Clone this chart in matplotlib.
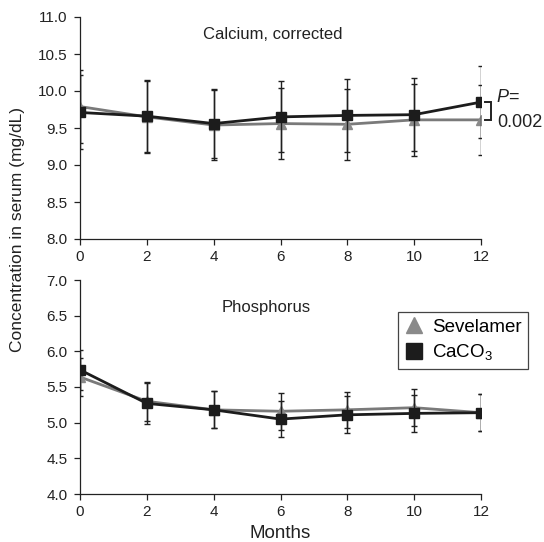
import matplotlib
matplotlib.use("Agg")
import matplotlib.pyplot as plt
from matplotlib.lines import Line2D

plt.rcParams['font.family'] = ['Liberation Sans', 'DejaVu Sans']
plt.rcParams['mathtext.fontset'] = 'custom'
plt.rcParams['mathtext.rm'] = 'Liberation Sans'
plt.rcParams['mathtext.it'] = 'Liberation Sans:italic'

months = [0, 2, 4, 6, 8, 10, 12]
ca_sev = [9.79, 9.65, 9.54, 9.56, 9.55, 9.61, 9.61]
ca_sev_sd = [0.49, 0.49, 0.47, 0.48, 0.48, 0.49, 0.47]
ca_caco3 = [9.71, 9.66, 9.56, 9.65, 9.67, 9.68, 9.85]
ca_caco3_sd = [0.50, 0.49, 0.47, 0.48, 0.49, 0.49, 0.49]
p_sev = [5.64, 5.30, 5.18, 5.16, 5.18, 5.21, 5.14]
p_sev_sd = [0.27, 0.27, 0.26, 0.26, 0.25, 0.26, 0.26]
p_caco3 = [5.74, 5.27, 5.18, 5.05, 5.11, 5.13, 5.14]
p_caco3_sd = [0.28, 0.29, 0.26, 0.25, 0.26, 0.26, 0.26]
ca_yticks = [8.0, 8.5, 9.0, 9.5, 10.0, 10.5, 11.0]
p_yticks = [4.0, 4.5, 5.0, 5.5, 6.0, 6.5, 7.0]
p_value_label = "0.002"

W, H = 544, 542
fig = plt.figure(figsize=(W / 100, H / 100), dpi=100)

def fx(px):
    return px / W

def fy(py):
    return 1 - py / H

ax1 = fig.add_axes([fx(80), fy(239), fx(481) - fx(80), fy(17) - fy(239)])
ax2 = fig.add_axes([fx(80), fy(494), fx(481) - fx(80), fy(280) - fy(494)])

SEV_LINE = '#7a7a7a'
SEV_MARK = '#8a8a8a'
CA_COL = '#1c1c1c'
ERR = '#202020'

def draw(ax, sev, sev_sd, cac, cac_sd, yticks):
    ax.errorbar(months, sev, yerr=sev_sd, color=SEV_LINE, lw=2.0,
                marker='^', ms=7, mfc=SEV_MARK, mec=SEV_MARK,
                ecolor=ERR, elinewidth=1.0, capsize=2.5, capthick=1.0, zorder=3)
    ax.errorbar(months, cac, yerr=cac_sd, color=CA_COL, lw=2.0,
                marker='s', ms=7, mfc=CA_COL, mec=CA_COL,
                ecolor=ERR, elinewidth=1.0, capsize=2.5, capthick=1.0, zorder=4)
    ax.set_xlim(0, 12)
    ax.set_ylim(yticks[0], yticks[-1])
    ax.set_xticks(months)
    ax.set_yticks(yticks)
    ax.set_yticklabels([f"{v:.1f}" for v in yticks])
    for s in ['top', 'right']:
        ax.spines[s].set_visible(False)
    for s in ['left', 'bottom']:
        ax.spines[s].set_linewidth(0.9)
        ax.spines[s].set_color('#222222')
    ax.tick_params(direction='out', length=4, width=0.9, colors='#222222',
                   labelsize=11, pad=4)
    ax.tick_params(axis='y', pad=5)
    for lbl in ax.get_xticklabels() + ax.get_yticklabels():
        lbl.set_color('#222222')

draw(ax1, ca_sev, ca_sev_sd, ca_caco3, ca_caco3_sd, ca_yticks)
draw(ax2, p_sev, p_sev_sd, p_caco3, p_caco3_sd, p_yticks)

ax1.text(0.48, 0.92, "Calcium, corrected", transform=ax1.transAxes,
         ha='center', va='center', fontsize=12, color='#222222')
ax2.text(0.464, 0.87, "Phosphorus", transform=ax2.transAxes,
         ha='center', va='center', fontsize=12, color='#222222')

# P-value bracket
yt, yb = ca_caco3[-1], ca_sev[-1]
ax1.plot([12.12, 12.3, 12.3, 12.12], [yt, yt, yb, yb], color='#222222',
         lw=1.4, clip_on=False, solid_joinstyle='miter')
ax1.text(12.45, 9.915, r"$\mathit{P}$=", fontsize=13, ha='left', va='center',
         color='#222222', clip_on=False)
ax1.text(12.5, 9.575, p_value_label, fontsize=13, ha='left', va='center',
         color='#222222', clip_on=False)

ax2.set_xlabel("Months", fontsize=13.5, labelpad=4, color='#222222')
fig.text(fx(18), fy(230), "Concentration in serum (mg/dL)", rotation=90,
         ha='center', va='center', fontsize=12.5, color='#222222')

handles = [
    Line2D([], [], ls='none', marker='^', ms=12, mfc=SEV_MARK, mec=SEV_MARK),
    Line2D([], [], ls='none', marker='s', ms=11, mfc=CA_COL, mec=CA_COL),
]
leg = fig.legend(handles, ["Sevelamer", "CaCO$_3$"], loc='upper left',
                 bbox_to_anchor=(fx(398), fy(312)), bbox_transform=fig.transFigure,
                 borderaxespad=0, fontsize=13.5, frameon=True, fancybox=False,
                 edgecolor='#444444', framealpha=1, handlelength=1.0,
                 handletextpad=0.45, labelspacing=0.35, borderpad=0.35)
leg.get_frame().set_linewidth(0.9)

fig.savefig("out.png", dpi=100)
